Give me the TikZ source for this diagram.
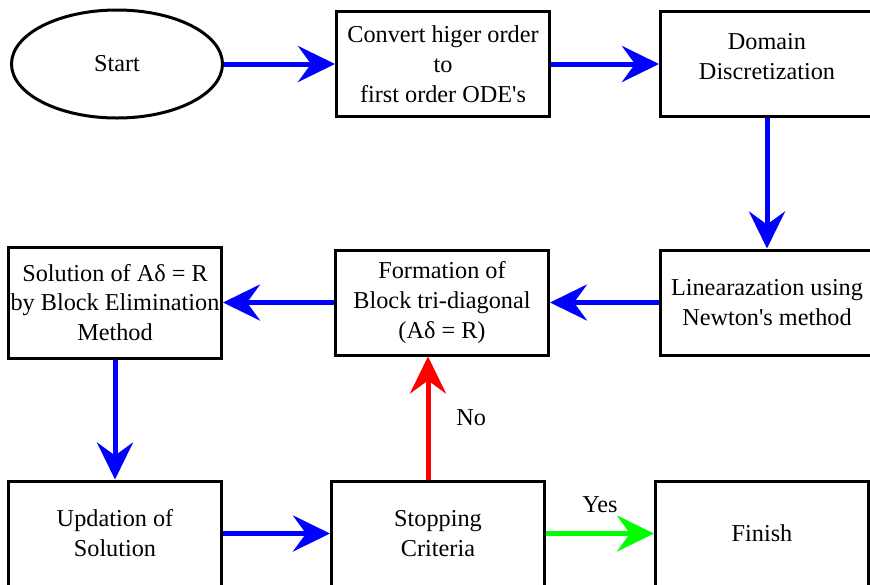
\documentclass[tikz,border=0pt]{standalone}
\usepackage{fontspec}
\setmainfont{Liberation Serif}
\usetikzlibrary{arrows.meta, positioning, shapes.geometric}

\begin{document}
\begin{tikzpicture}[
    box/.style={rectangle, draw, line width=0.6mm, minimum height=2.1cm,
                minimum width=4.26cm, inner sep=1pt, align=center},
    term/.style={ellipse, draw, line width=0.6mm, minimum height=2.16cm,
                 minimum width=4.22cm},
    flow/.style={->, line width=1mm, blue},
    lbl/.style={text=black},
    >={Stealth[length=7.4mm, width=7.2mm, inset=2.6mm]},
    font=\fontsize{13.8}{17}\selectfont,
    node distance=2.2cm
]
\useasboundingbox (0,0) rectangle (17.4,-11.68);
\node[term] (start) at (2.34,-1.28) {Start};
\node[box, right=2.22cm of start] (convert) {Convert higer order\\to\\first order ODE\textquotesingle s};
\node[box, right=2.16cm of convert] (domain) {Domain\\Discretization\\[-0.3cm]\mbox{}};
\node[box, below=2.61cm of domain] (linear) {Linearazation using\\Newton\textquotesingle s method};
\node[box, left=2.18cm of linear] (formation) {Formation of\\Block tri-diagonal\\(Aδ = R)};
\node[box, minimum height=2.22cm, left=2.22cm of formation] (solution) {Solution of Aδ = R\\by Block Elimination\\Method};
\node[box, below=2.4cm of solution] (updation) {Updation of\\Solution};
\node[box, right=2.14cm of updation] (stopping) {Stopping\\Criteria};
\node[box, right=2.16cm of stopping] (finish) {Finish};

\draw[flow] (start) -- (convert);
\draw[flow] (convert) -- (domain);
\draw[flow] (domain) -- (linear);
\draw[flow] (linear) -- (formation);
\draw[flow] (formation) -- (solution);
\draw[flow] (solution) -- (updation);
\draw[flow] (updation) -- (stopping);
\draw[flow, red] ([xshift=-2mm]stopping.north) -- node[lbl, right=4mm] {No} ([xshift=-2mm]stopping.north |- formation.south);
\draw[flow, green] (stopping) -- node[lbl, above=2.5mm] {Yes} (finish);

\end{tikzpicture}
\end{document}
